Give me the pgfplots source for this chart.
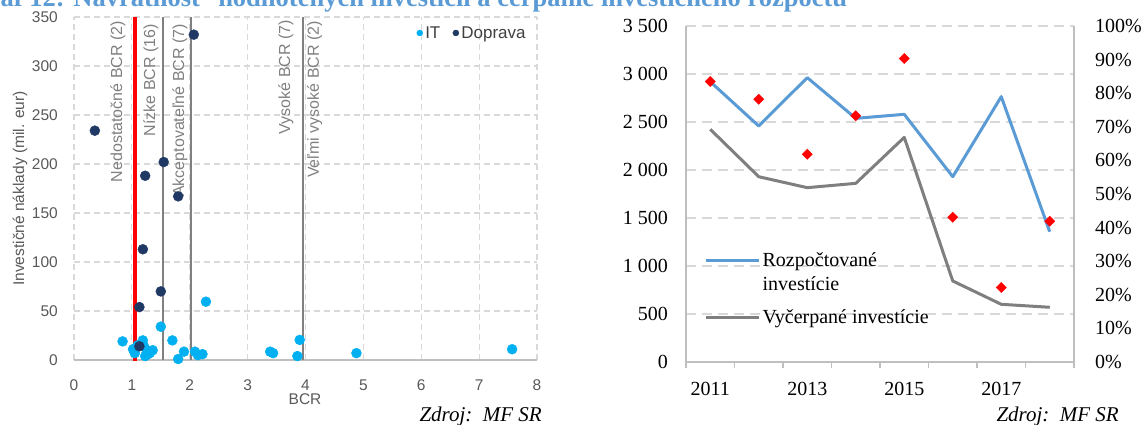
\documentclass[border=0pt]{standalone}
\usepackage{fontspec}
\setmainfont{Liberation Serif}
\newfontfamily\arial{Liberation Sans}
\usepackage{pgfplots}
\pgfplotsset{compat=1.18}
\definecolor{itc}{RGB}{0,176,240}
\definecolor{dop}{RGB}{31,56,100}
\definecolor{gridc}{RGB}{217,217,217}
\definecolor{axc}{RGB}{191,191,191}
\definecolor{tickc}{RGB}{89,89,89}
\definecolor{lblc}{RGB}{128,128,128}
\definecolor{bluel}{RGB}{91,155,213}
\definecolor{grayl}{RGB}{127,127,127}
\definecolor{titlec}{RGB}{91,155,213}
\newcommand{\lf}{\arial\fontsize{15.5bp}{18bp}\selectfont}
\newcommand{\rf}{\fontsize{20bp}{24bp}\selectfont}
\begin{document}
\begin{tikzpicture}
\useasboundingbox (0,0) rectangle (1145bp,425bp);
\node[anchor=base west, inner sep=0pt, font=\bfseries\fontsize{26.5bp}{30bp}\selectfont, text=titlec] at (-32bp,418bp) {Graf 12: Návratnosť\ \ hodnotených investícií a čerpanie investičného rozpočtu};
% ---------------- left chart ----------------
\begin{axis}[
  at={(74bp,65bp)}, anchor=south west, scale only axis, width=463bp, height=343bp,
  xmin=0, xmax=8, ymin=0, ymax=350,
  xtick={0,...,8}, ytick={0,50,...,350},
  grid=major, major grid style={gridc, line width=1.2bp, dash pattern=on 6bp off 4bp},
  axis line style={draw=none},
  tick style={draw=none},
  clip=false,
  /pgf/number format/assume math mode=true,
  ticklabel style={font=\lf, text=tickc, inner sep=0pt},
  xticklabel style={anchor=base, yshift=-30bp},
  yticklabel style={anchor=east, xshift=-16bp},
  xlabel={BCR}, ylabel={Investičné náklady (mil. eur)},
  every axis x label/.style={at={(axis description cs:0.499,-0.1135)}, anchor=center, font=\lf, text=tickc},
  every axis y label/.style={at={(axis description cs:-0.1166,0.5)}, rotate=90, anchor=center, font=\lf, text=tickc},
  legend columns=2,
  legend style={at={(axis cs:7.85,333.7)}, anchor=east, draw=none, fill=none, inner sep=0pt,
    font=\arial\fontsize{17bp}{19bp}\selectfont, text=black!75,
    nodes={inner sep=2.5bp},
    /tikz/every even column/.append style={column sep=10bp}},
  legend image code/.code={\draw[#1, mark size=3bp] plot coordinates {(0bp,0bp)};},
]
\draw[axc, line width=1.5bp] (axis cs:0,0) -- (axis cs:8,0);
\addplot[only marks, mark=*, mark size=5bp, color=itc] coordinates {
(0.84,19) (1.02,11) (1.05,7) (1.10,15) (1.19,20) (1.21,14) (1.23,4) (1.26,9.5)
(1.28,6) (1.31,7) (1.36,10) (1.50,34) (1.70,20) (1.80,1) (1.90,8.5) (2.09,8.5)
(2.14,5) (2.22,6) (2.28,59.5) (3.39,8.5) (3.44,7) (3.86,4) (3.90,20.5) (4.88,7) (7.57,11)};
\addlegendentry{IT}
\addplot[only marks, mark=*, mark size=5bp, color=dop] coordinates {
(0.36,234) (1.13,14) (1.13,54) (1.19,113) (1.23,188) (1.50,70) (1.55,202) (1.80,167) (2.07,332)};
\addlegendentry{Doprava}
\addplot[red, line width=4.5bp, forget plot] coordinates {(1.05,-1.5) (1.05,350)};
\addplot[lblc, line width=2.5bp, forget plot] coordinates {(1.54,0) (1.54,350)};
\addplot[lblc, line width=2.5bp, forget plot] coordinates {(2.02,0) (2.02,350)};
\addplot[lblc, line width=2.5bp, forget plot] coordinates {(3.96,0) (3.96,350)};
\begin{scope}[every node/.style={rotate=90, anchor=east, inner sep=0pt, font=\arial\fontsize{16bp}{18bp}\selectfont, text=lblc}]
\node at (axis cs:0.76,346) {Nedostatočné BCR (2)};
\node at (axis cs:1.33,343) {Nízke BCR (16)};
\node at (axis cs:1.83,343) {Akceptovateľné BCR (7)};
\node at (axis cs:3.66,347) {Vysoké BCR (7)};
\node at (axis cs:4.16,346) {Veľmi vysoké BCR (2)};
\end{scope}
\end{axis}
% ---------------- right chart ----------------
\begin{axis}[
  at={(686bp,63bp)}, anchor=south west, scale only axis, width=388bp, height=336bp,
  xmin=2010.5, xmax=2018.5, ymin=0, ymax=3500,
  xtick={2011,2013,2015,2017}, xticklabels={2011,2013,2015,2017},
  minor xtick={2010.5,2011.5,...,2018.5},
  ytick={0,500,...,3500},
  ymajorgrids, major grid style={gridc, line width=1.8bp, dash pattern=on 10bp off 6bp},
  axis x line*=bottom, axis y line*=left,
  axis line style={-, draw=axc, line width=1.2bp},
  major tick length=0pt, minor tick length=6bp, tick align=outside,
  minor tick style={axc, line width=1.2bp},
  /pgf/number format/assume math mode=true,
  /pgf/number format/1000 sep={\ },
  ticklabel style={font=\rf, text=black, inner sep=0pt},
  xticklabel style={anchor=base, yshift=-33bp},
  yticklabel style={anchor=east, xshift=-18bp},
  legend style={at={(axis cs:2010.87,1167)}, anchor=north west, draw=none, fill=none, inner sep=0pt,
    font=\rf, nodes={align=left, inner sep=2.5bp}, /tikz/row sep=13bp},
  legend cell align=left,
  legend image code/.code={\draw[#1] (0bp,0bp) -- (53bp,0bp);},
]
\addplot[bluel, line width=3bp, line join=round, no marks, legend image post style={yshift=12bp}] coordinates {
(2011,2920) (2012,2458) (2013,2962) (2014,2538) (2015,2580) (2016,1930) (2017,2764) (2018,1357)};
\addlegendentry{Rozpočtované\\investície}
\addplot[grayl, line width=3bp, line join=round, no marks] coordinates {
(2011,2424) (2012,1930) (2013,1816) (2014,1861) (2015,2340) (2016,844) (2017,601) (2018,570)};
\addlegendentry{Vyčerpané investície}
\end{axis}
\begin{axis}[
  at={(686bp,63bp)}, anchor=south west, scale only axis, width=388bp, height=336bp,
  xmin=2010.5, xmax=2018.5, ymin=0, ymax=100,
  axis x line=none, axis y line*=right,
  axis line style={-, draw=axc, line width=1.2bp},
  ytick={0,10,...,100}, major tick length=0pt,
  /pgf/number format/assume math mode=true,
  yticklabel={\pgfmathprintnumber{\tick}\%},
  ticklabel style={font=\rf, text=black, inner sep=0pt},
  yticklabel style={anchor=west, xshift=21bp},
]
\addplot[only marks, mark=square*, mark size=3.6bp, mark options={rotate=45, fill=red, draw=red}] coordinates {
(2011,83.5) (2012,78.2) (2013,61.8) (2014,73.3) (2015,90.3) (2016,43.1) (2017,22.2) (2018,41.9)};
\end{axis}
\node[anchor=base east, inner sep=0pt, font=\itshape\fontsize{21bp}{24bp}\selectfont] at (542bp,3.3bp) {Zdroj:\ \ MF SR};
\node[anchor=base east, inner sep=0pt, font=\itshape\fontsize{21bp}{24bp}\selectfont] at (1119bp,3.3bp) {Zdroj:\ \ MF SR};
\end{tikzpicture}
\end{document}
